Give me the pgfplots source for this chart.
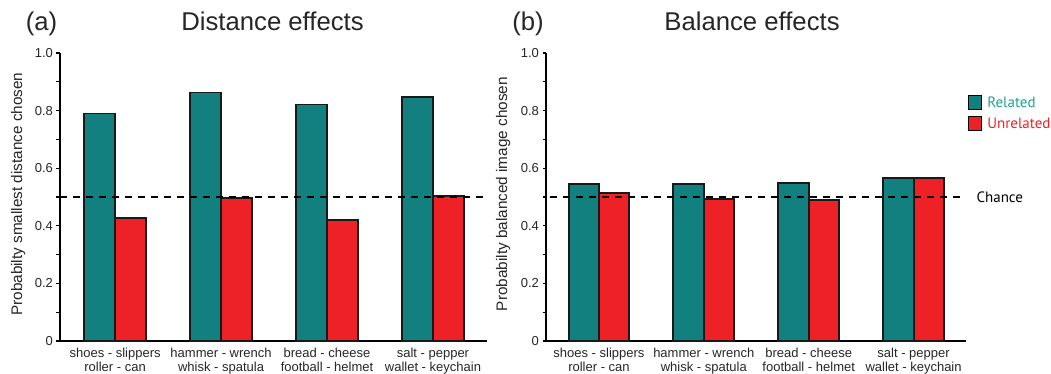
\documentclass[border=0pt]{standalone}
\usepackage{pgfplots}
\pgfplotsset{compat=1.18}
\usepackage{pgfplotstable}
\usepackage{fontspec}
\setmainfont{Liberation Sans}
\newfontfamily\legfont{PT Sans}
\definecolor{relc}{HTML}{12807F}
\definecolor{unrc}{HTML}{EE2226}
\definecolor{reltext}{HTML}{1F9E9A}

\pgfplotstableread{
x rel unr
0 0.790 0.428
1 0.863 0.498
2 0.821 0.420
3 0.847 0.505
}\dataA
\pgfplotstableread{
x rel unr
0 0.544 0.513
1 0.544 0.493
2 0.548 0.490
3 0.565 0.565
}\dataB

\pgfplotsset{
 myaxis/.style={
  scale only axis, height=288pt,
  ymin=0, ymax=1,
  axis x line*=bottom, axis y line*=left,
  axis line style={line width=1.4pt, black, -},
  xtick={0,1,2,3},
  xticklabels={{shoes - slippers\\roller - can},{hammer - wrench\\whisk - spatula},{bread - cheese\\football - helmet},{salt - pepper\\wallet - keychain}},
  xticklabel style={align=center, font=\fontsize{13}{14}\selectfont, text=black!85},
  x tick style={draw=none},
  ytick={0,0.2,0.4,0.6,0.8,1},
  yticklabels={0,0.2,0.4,0.6,0.8,1.0},
  minor ytick={0.1,0.3,0.5,0.7,0.9},
  tick align=outside, major tick length=3.5pt, minor tick length=3.5pt,
  y tick style={black, line width=1.2pt},
  yticklabel style={font=\fontsize{13}{14}\selectfont, text=black!85},
  ylabel style={font=\fontsize{15.3}{16}\selectfont, anchor=center, text=black!85},
  clip=false,
 },
 relbar/.style={ybar, bar width=0.29, bar shift=-0.145, fill=relc, draw=black!90, line width=1.9pt, forget plot},
 unrbar/.style={ybar, bar width=0.29, bar shift=0.145, fill=unrc, draw=black!90, line width=1.9pt, forget plot},
 chance/.style={black, line width=1.4pt, dash pattern=on 7pt off 6pt, forget plot},
}

\begin{document}
\begin{tikzpicture}
\useasboundingbox (0,0) rectangle (1051pt,374pt);

\begin{axis}[myaxis, width=427pt, at={(60pt,33pt)}, anchor=south west,
  xmin=-0.52, xmax=3.51,
  ylabel={Probabilty smallest distance chosen},
  ylabel style={at={(axis description cs:-0.098,0.51)}}]
\addplot[relbar] table[x=x, y=rel] {\dataA};
\addplot[unrbar] table[x=x, y=unr] {\dataA};
\addplot[chance] coordinates {(-0.52,0.5) (3.51,0.5)};
\end{axis}

\begin{axis}[myaxis, width=420pt, at={(546pt,33pt)}, anchor=south west,
  xmin=-0.505, xmax=3.5,
  ylabel={Probabilty balanced image chosen},
  ylabel style={at={(axis description cs:-0.102,0.51)}},
  legend style={at={(axis description cs:1.004,0.857)}, anchor=north west, draw=none, fill=none,
    font=\legfont\fontsize{15}{16}\selectfont, row sep=5pt, inner sep=0pt,
    /tikz/every odd column/.append style={column sep=3pt}},
  legend cell align=left]
\addlegendimage{legend image code/.code={\draw[fill=relc, draw=black, line width=1.5pt] (0pt,-7pt) rectangle (13pt,7pt);}}
\addlegendentry{\textcolor{reltext}{Related}}
\addlegendimage{legend image code/.code={\draw[fill=unrc, draw=black, line width=1.5pt] (0pt,-7pt) rectangle (13pt,7pt);}}
\addlegendentry{\textcolor{unrc}{Unrelated}}
\addplot[relbar] table[x=x, y=rel] {\dataB};
\addplot[unrbar] table[x=x, y=unr] {\dataB};
\addplot[chance] coordinates {(-0.467,0.5) (3.47,0.5)};
\node[anchor=west, font=\legfont\fontsize{15}{16}\selectfont, xshift=7pt] at (axis cs:3.5,0.5) {Chance};
\end{axis}

\node[anchor=base, font=\fontsize{25.7}{30}\selectfont, text=black!85] at (41.5pt,343pt) {(a)};
\node[anchor=base, font=\fontsize{25.7}{30}\selectfont, text=black!85] at (272.5pt,343pt) {Distance effects};
\node[anchor=base, font=\fontsize{25.7}{30}\selectfont, text=black!85] at (528pt,343pt) {(b)};
\node[anchor=base, font=\fontsize{25.7}{30}\selectfont, text=black!85] at (752pt,343pt) {Balance effects};
\end{tikzpicture}
\end{document}
